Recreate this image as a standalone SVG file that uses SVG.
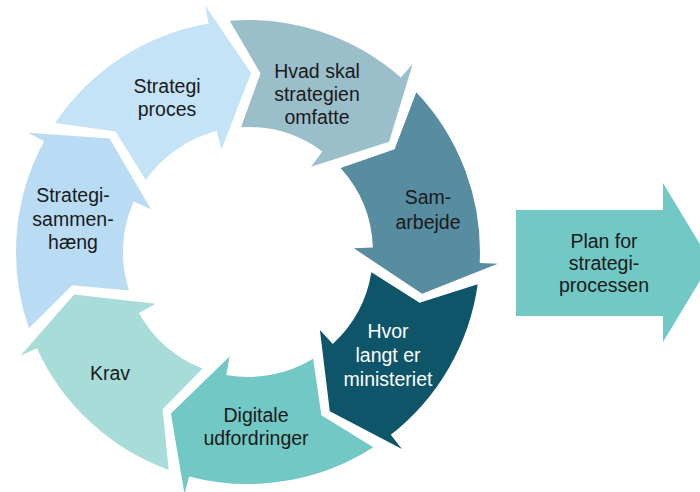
<svg xmlns="http://www.w3.org/2000/svg" width="700" height="492" viewBox="0 0 700 492">
  <style>
    .lbl { font-family: "Liberation Sans", Arial, sans-serif; font-size: 19.5px; fill: #1a1a1a; text-anchor: middle; }
    .lbl.light { fill: #ffffff; }
  </style>
  <rect width="700" height="492" fill="#ffffff"/>

  <!-- cycle of seven curved block arrows, clockwise, around centre (248,252);
       each band runs r=125..232, arrowhead wings reach r=106 and r=250 -->
  <g id="strategi-sammenhaeng">
    <path fill="#B9DCF4" d="M 28.9 328.3 A 232 232 0 0 1 44.1 141.3 L 28.3 132.7 L 109.5 138.6 L 151.0 209.2 L 133.6 201.6 A 125 125 0 0 0 129.0 290.4 L 72.1 285.2 Z"/>
    <text class="lbl" x="73" y="202">Strategi-</text>
    <text class="lbl" x="73" y="226">sammen-</text>
    <text class="lbl" x="73" y="249">hæng</text>
  </g>
  <g id="strategi-proces">
    <path fill="#C4E3F6" d="M 55.2 122.9 A 232 232 0 0 1 208.5 23.4 L 205.4 5.7 L 251.1 73.0 L 221.5 149.4 L 216.7 131.0 A 125 125 0 0 0 145.7 180.1 L 115.6 131.5 Z"/>
    <text class="lbl" x="167" y="93">Strategi</text>
    <text class="lbl" x="167" y="116">proces</text>
  </g>
  <g id="hvad-skal">
    <path fill="#9BBECB" d="M 229.8 20.7 A 232 232 0 0 1 400.8 77.4 L 412.7 63.9 L 389.1 141.8 L 311.0 166.8 L 322.4 151.5 A 125 125 0 0 0 241.0 127.2 L 260.5 73.4 Z"/>
    <text class="lbl" x="317" y="78">Hvad skal</text>
    <text class="lbl" x="317" y="101">strategien</text>
    <text class="lbl" x="317" y="124">omfatte</text>
  </g>
  <g id="samarbejde">
    <path fill="#588CA0" d="M 416.3 92.3 A 232 232 0 0 1 479.7 262.9 L 497.7 263.8 L 422.1 293.8 L 353.9 248.3 L 372.9 247.6 A 125 125 0 0 0 340.6 168.0 L 394.6 149.3 Z"/>
    <text class="lbl" x="428" y="204">Sam-</text>
    <text class="lbl" x="428" y="229">arbejde</text>
  </g>
  <g id="hvor-langt">
    <path fill="#0E5569" d="M 477.7 284.3 A 232 232 0 0 1 390.8 434.8 L 401.9 449.0 L 329.8 411.2 L 319.9 329.9 L 332.8 343.9 A 125 125 0 0 0 371.4 272.2 L 419.6 302.8 Z"/>
    <text class="lbl light" x="388" y="338">Hvor</text>
    <text class="lbl light" x="388" y="362">langt er</text>
    <text class="lbl light" x="388" y="386">ministeriet</text>
  </g>
  <g id="digitale">
    <path fill="#72C8C5" d="M 373.3 447.2 A 232 232 0 0 1 189.1 476.4 L 184.5 493.8 L 170.9 413.6 L 229.6 356.4 L 226.3 375.1 A 125 125 0 0 0 313.1 358.7 L 321.4 415.3 Z"/>
    <text class="lbl" x="256" y="422">Digitale</text>
    <text class="lbl" x="256" y="445">udfordringer</text>
  </g>
  <g id="krav">
    <path fill="#A8DCD9" d="M 168.7 470.0 A 232 232 0 0 1 36.9 348.2 L 20.5 355.7 L 74.1 294.4 L 155.5 303.7 L 138.9 313.0 A 125 125 0 0 0 202.6 368.5 L 162.6 409.3 Z"/>
    <text class="lbl" x="110" y="380">Krav</text>
  </g>

  <!-- outcome arrow -->
  <g id="plan">
    <path fill="#72C8C5" d="M 516 210 L 663 210 L 663 183 L 711 262.5 L 663 342 L 663 316 L 516 316 Z"/>
    <text class="lbl" x="604" y="248">Plan for</text>
    <text class="lbl" x="604" y="270">strategi-</text>
    <text class="lbl" x="604" y="292">processen</text>
  </g>
</svg>
